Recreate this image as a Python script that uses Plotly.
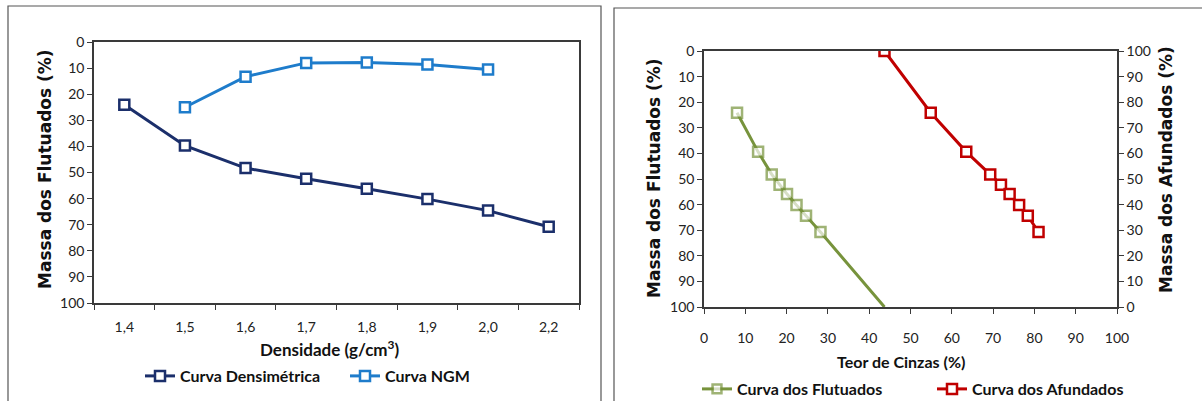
import plotly.graph_objects as go

W, H = 1202, 401

# ---- Left chart data ----
densidade = ["1,4", "1,5", "1,6", "1,7", "1,8", "1,9", "2,0", "2,2"]
curva_densimetrica = [24.0, 39.7, 48.3, 52.4, 56.2, 60.2, 64.6, 70.8]
ngm_densidade = ["1,5", "1,6", "1,7", "1,8", "1,9", "2,0"]
curva_ngm = [25.0, 13.3, 8.0, 7.9, 8.6, 10.5]

# ---- Right chart data ----
cinzas_flutuados = [8.0, 13.1, 16.4, 18.3, 20.1, 22.4, 24.7, 28.2, 43.7]
massa_flutuados = [24.1, 39.4, 48.2, 52.2, 55.9, 60.2, 64.4, 70.7, 100.0]
cinzas_afundados = [43.7, 54.9, 63.5, 69.3, 71.9, 74.0, 76.3, 78.4, 81.0]
massa_afundados = [100.0, 75.9, 60.6, 51.8, 47.8, 44.1, 39.8, 35.6, 29.3]

NAVY = "#1B2F6B"
LBLUE = "#1E7CCB"
GREEN = "#77933C"
RED = "#C00000"
AX = "#3A3A3A"
TICKFONT = dict(family="Lato", size=14, color="#222222")

def px(x):
    return x / W

def py(y):
    return 1 - y / H

fig = go.Figure()

mk = dict(symbol="square", size=10, color="white")

fig.add_trace(go.Scatter(
    x=densidade, y=curva_densimetrica, name="Curva Densimétrica",
    mode="lines+markers", line=dict(color=NAVY, width=3),
    marker=dict(**mk, line=dict(color=NAVY, width=2.5)),
    xaxis="x", yaxis="y", legend="legend"))
fig.add_trace(go.Scatter(
    x=ngm_densidade, y=curva_ngm, name="Curva NGM",
    mode="lines+markers", line=dict(color=LBLUE, width=3),
    marker=dict(**mk, line=dict(color=LBLUE, width=2.5)),
    xaxis="x", yaxis="y", legend="legend"))

sizes_f = [10] * (len(cinzas_flutuados) - 1) + [0]
fig.add_trace(go.Scatter(
    x=cinzas_flutuados, y=massa_flutuados, name="Curva dos Flutuados",
    mode="lines+markers", line=dict(color=GREEN, width=3),
    marker=dict(symbol="square", size=sizes_f, color="white",
                line=dict(color=GREEN, width=2.5)),
    xaxis="x2", yaxis="y2", legend="legend2"))
fig.add_trace(go.Scatter(
    x=cinzas_afundados, y=massa_afundados, name="Curva dos Afundados",
    mode="lines+markers", line=dict(color=RED, width=3),
    marker=dict(**mk, line=dict(color=RED, width=2.5)),
    xaxis="x2", yaxis="y3", legend="legend2"))

axbase = dict(showline=True, linecolor=AX, linewidth=1.5, mirror=True,
              showgrid=False, zeroline=False, ticks="outside", ticklen=5,
              tickcolor=AX, tickfont=TICKFONT)

LEGFONT = dict(family="Lato", size=16, color="#111111", weight="bold")

fig.update_layout(
    width=W, height=H, margin=dict(l=0, r=0, t=0, b=0, autoexpand=False),
    paper_bgcolor="white", plot_bgcolor="white",
    xaxis=dict(**axbase, domain=[px(94), px(579)], anchor="y",
               type="category", categoryorder="array", categoryarray=densidade,
               range=[-0.5, 7.5], tickson="boundaries", ticklabelstandoff=10),
    yaxis=dict(**axbase, domain=[py(303), py(42)], anchor="x",
               range=[100, 0], dtick=10, tick0=0),
    xaxis2=dict(**axbase, domain=[px(704), px(1117)], anchor="y2",
                range=[0, 100], dtick=10, ticklabelstandoff=12),
    yaxis2=dict(**axbase, domain=[py(307), py(51)], anchor="x2",
                range=[100, 0], dtick=10, tick0=0),
    yaxis3=dict(showline=True, linecolor=AX, linewidth=1.5, showgrid=False,
                zeroline=False, ticks="outside", ticklen=5, tickcolor=AX,
                tickfont=TICKFONT, overlaying="y2", side="right", anchor="x2",
                range=[0, 100], dtick=10, tick0=0),
    legend=dict(orientation="h", x=px(140), y=py(376), xanchor="left",
                yanchor="middle", font=LEGFONT, entrywidth=160,
                itemwidth=30, bgcolor="rgba(0,0,0,0)"),
    legend2=dict(orientation="h", x=px(697), y=py(389), xanchor="left",
                 yanchor="middle", font=LEGFONT, entrywidth=190,
                 itemwidth=30, bgcolor="rgba(0,0,0,0)"),
    showlegend=True,
)

TITLEFONT_Y = dict(family="DejaVu Sans", size=17, color="#111111")
TITLEFONT_X = dict(family="Lato", size=17, color="#111111")

annotations = [
    dict(text="<b>Massa dos Flutuados (%)</b>", x=px(45), y=py(169), textangle=-90,
         font=TITLEFONT_Y),
    dict(text="<b>Densidade (g/cm<sup>3</sup>)</b>", x=px(330), y=py(348),
         font=TITLEFONT_X),
    dict(text="<b>Massa dos Flutuados (%)</b>", x=px(654), y=py(178), textangle=-90,
         font=TITLEFONT_Y),
    dict(text="<b>Massa dos Afundados (%)</b>", x=px(1166), y=py(170), textangle=-90,
         font=TITLEFONT_Y),
    dict(text="<b>Teor de Cinzas (%)</b>", x=px(901), y=py(361),
         font=dict(family="Lato", size=16, color="#111111")),
]
for a in annotations:
    a.update(xref="paper", yref="paper", showarrow=False, xanchor="center", yanchor="middle")
fig.update_layout(annotations=annotations)

fig.update_layout(shapes=[
    dict(type="rect", xref="paper", yref="paper", x0=px(8), x1=px(601),
         y0=-0.1, y1=py(6), line=dict(color="#555555", width=1.2), layer="below"),
    dict(type="rect", xref="paper", yref="paper", x0=px(614), x1=1.1,
         y0=-0.1, y1=py(8), line=dict(color="#555555", width=1.2), layer="below"),
])

fig.write_html("out.html")
